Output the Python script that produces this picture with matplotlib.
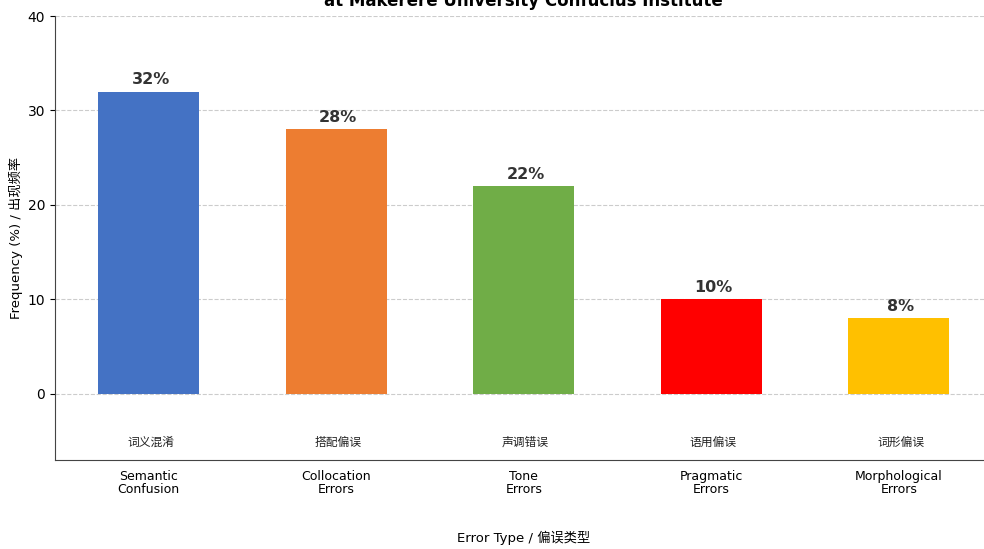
import matplotlib
matplotlib.use("Agg")
import matplotlib.pyplot as plt

plt.rcParams['font.family'] = ['DejaVu Sans', 'Noto Sans CJK SC']

# ── Data ──────────────────────────────────────────────────────────────────────
categories_en = ["Semantic\nConfusion", "Collocation\nErrors", "Tone\nErrors",
                 "Pragmatic\nErrors", "Morphological\nErrors"]
categories_zh = ["词义混淆", "搭配偏误", "声调错误", "语用偏误", "词形偏误"]
frequencies = [32, 28, 22, 10, 8]
colors = ["#4472C4", "#ED7D31", "#70AD47", "#FF0000", "#FFC000"]

# ── Plot ──────────────────────────────────────────────────────────────────────
fig = plt.figure(figsize=(9.84, 5.49), dpi=100)
ax = fig.add_axes([55 / 984, 89 / 549, 937.5 / 984, 444 / 549])

x = list(range(len(frequencies)))
bars = ax.bar(x, frequencies, width=0.54, color=colors, zorder=3)

for xi, v in zip(x, frequencies):
    ax.text(xi + 0.01, v + 0.45, f"{v}%", ha="center", va="bottom",
            fontsize=11.5, fontweight="bold", color="#333333")

for xi, zh in zip(x, categories_zh):
    ax.text(xi + 0.01, -5.1, zh, ha="center", va="center", fontsize=8.5,
            color="#222222", family=['Noto Sans CJK SC', 'DejaVu Sans'])

ax.set_xlim(-0.5, 4.5)
ax.set_ylim(-7, 40)
ax.set_yticks([0, 10, 20, 30, 40])
ax.set_xticks(x)
ax.set_xticklabels(categories_en, fontsize=9, linespacing=1.0)
ax.tick_params(axis="x", length=0, pad=7)
ax.tick_params(axis="y", labelsize=10)

ax.yaxis.grid(True, linestyle="--", color="#cccccc", linewidth=0.8, zorder=0)
ax.spines["top"].set_visible(False)
ax.spines["right"].set_visible(False)
ax.spines["left"].set_color("#444444")
ax.spines["bottom"].set_color("#444444")

ax.set_ylabel("Frequency (%) / 出现频率", fontsize=9.5, labelpad=3)
ax.set_xlabel("Error Type / 偏误类型", fontsize=9.5, labelpad=25)
ax.set_title("at Makerere University Confucius Institute",
             fontsize=12, fontweight="bold", pad=7)

fig.savefig("out.png", dpi=100)
